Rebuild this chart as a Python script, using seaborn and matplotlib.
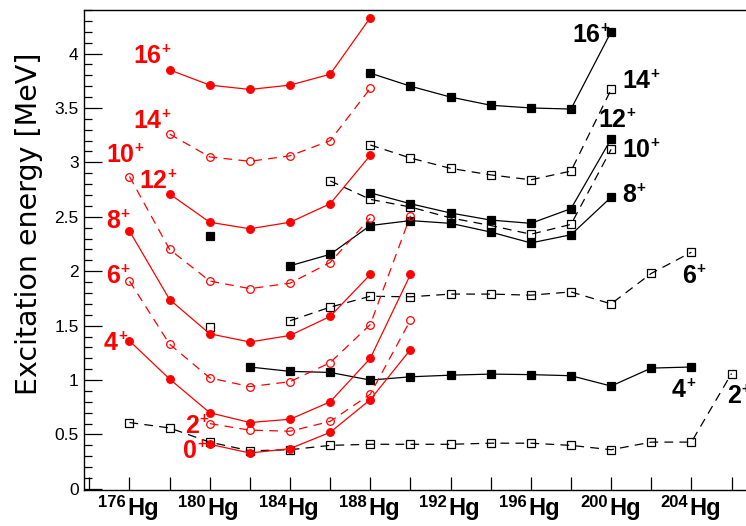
import numpy as np
import matplotlib
matplotlib.use("Agg")
import matplotlib.pyplot as plt
import seaborn as sns
from matplotlib.ticker import FixedLocator

sns.set_theme(style="ticks")
plt.rcParams["font.family"] = ["Liberation Sans", "DejaVu Sans"]

RED = "#ff0000"
BLACK = "#000000"

# ---------------- data (excitation energies in MeV) ----------------
# red: intruder band
red_0_A = [180, 182, 184, 186, 188, 190]
red_0_E = [0.41, 0.33, 0.37, 0.52, 0.82, 1.28]
red_2_A = [180, 182, 184, 186, 188, 190]
red_2_E = [0.60, 0.54, 0.53, 0.62, 0.87, 1.55]
red_4_A = [176, 178, 180, 182, 184, 186, 188, 190]
red_4_E = [1.36, 1.01, 0.70, 0.61, 0.64, 0.80, 1.20, 1.97]
red_6_A = [176, 178, 180, 182, 184, 186, 188, 190]
red_6_E = [1.91, 1.33, 1.02, 0.94, 0.985, 1.16, 1.51, 2.51]
red_8_A = [176, 178, 180, 182, 184, 186, 188]
red_8_E = [2.37, 1.74, 1.425, 1.35, 1.41, 1.585, 1.97]
red_10_A = [176, 178, 180, 182, 184, 186, 188]
red_10_E = [2.87, 2.20, 1.91, 1.84, 1.89, 2.08, 2.49]
red_12_A = [178, 180, 182, 184, 186, 188]
red_12_E = [2.71, 2.45, 2.39, 2.45, 2.62, 3.065]
red_14_A = [178, 180, 182, 184, 186, 188]
red_14_E = [3.26, 3.05, 3.01, 3.06, 3.20, 3.68]
red_16_A = [178, 180, 182, 184, 186, 188]
red_16_E = [3.85, 3.71, 3.67, 3.71, 3.81, 4.33]

# black: ground band
blk_2_A = [176, 178, 180, 182, 184, 186, 188, 190, 192, 194, 196, 198, 200, 202, 204, 206]
blk_2_E = [0.61, 0.56, 0.43, 0.35, 0.36, 0.40, 0.41, 0.41, 0.41, 0.42, 0.42, 0.40, 0.36, 0.43, 0.43, 1.06]
blk_4_A = [182, 184, 186, 188, 190, 192, 194, 196, 198, 200, 202, 204]
blk_4_E = [1.12, 1.08, 1.07, 1.00, 1.03, 1.045, 1.055, 1.05, 1.04, 0.945, 1.11, 1.12]
blk_6_A = [184, 186, 188, 190, 192, 194, 196, 198, 200, 202, 204]
blk_6_E = [1.545, 1.67, 1.77, 1.765, 1.79, 1.79, 1.78, 1.81, 1.70, 1.98, 2.175]
blk_6_iso_A = [180]
blk_6_iso_E = [1.49]
blk_8_A = [184, 186, 188, 190, 192, 194, 196, 198, 200]
blk_8_E = [2.05, 2.155, 2.42, 2.465, 2.44, 2.36, 2.26, 2.335, 2.68]
blk_8_iso_A = [180]
blk_8_iso_E = [2.32]
blk_10_A = [186, 188, 190, 192, 194, 196, 198, 200]
blk_10_E = [2.83, 2.66, 2.59, 2.49, 2.42, 2.34, 2.43, 3.12]
blk_12_A = [188, 190, 192, 194, 196, 198, 200]
blk_12_E = [2.72, 2.62, 2.535, 2.47, 2.44, 2.575, 3.215]
blk_14_A = [188, 190, 192, 194, 196, 198, 200]
blk_14_E = [3.16, 3.04, 2.945, 2.885, 2.84, 2.92, 3.67]
blk_16_A = [188, 190, 192, 194, 196, 198, 200]
blk_16_E = [3.82, 3.70, 3.60, 3.525, 3.50, 3.49, 4.20]

x_ticks = list(range(174, 207, 2))
x_label_masses = [176, 180, 184, 188, 192, 196, 200, 204]
y_ticks = [0, 0.5, 1, 1.5, 2, 2.5, 3, 3.5, 4]
y_tick_labels = ["0", "0.5", "1", "1.5", "2", "2.5", "3", "3.5", "4"]
y_label = "Excitation energy [MeV]"

# ---------------- figure ----------------
W, H = 746, 526
fig = plt.figure(figsize=(W / 100, H / 100), dpi=100)
ax = fig.add_axes([84.3 / W, 36 / H, 1 - 84.3 / W, 480 / H])
ax.set_xlim(173.75, 206.72)
ax.set_ylim(-0.01, 4.40)

DASH = (0, (7, 5))


def draw(xs, ys, color, filled, dashed, marker):
    sns.lineplot(
        x=xs, y=ys, ax=ax, color=color, estimator=None, sort=False,
        linestyle=DASH if dashed else "-", linewidth=0.9,
        marker=marker, markersize=5.5,
        markerfacecolor=color if filled else "none",
        markeredgecolor=color, markeredgewidth=0.9, legend=False,
    )


# black series
draw(blk_2_A, blk_2_E, BLACK, False, True, "s")
draw(blk_4_A, blk_4_E, BLACK, True, False, "s")
draw(blk_6_A, blk_6_E, BLACK, False, True, "s")
draw(blk_6_iso_A, blk_6_iso_E, BLACK, False, True, "s")
draw(blk_8_A, blk_8_E, BLACK, True, False, "s")
draw(blk_8_iso_A, blk_8_iso_E, BLACK, True, False, "s")
draw(blk_10_A, blk_10_E, BLACK, False, True, "s")
draw(blk_12_A, blk_12_E, BLACK, True, False, "s")
draw(blk_14_A, blk_14_E, BLACK, False, True, "s")
draw(blk_16_A, blk_16_E, BLACK, True, False, "s")

# red series
draw(red_0_A, red_0_E, RED, True, False, "o")
draw(red_2_A, red_2_E, RED, False, True, "o")
draw(red_4_A, red_4_E, RED, True, False, "o")
draw(red_6_A, red_6_E, RED, False, True, "o")
draw(red_8_A, red_8_E, RED, True, False, "o")
draw(red_10_A, red_10_E, RED, False, True, "o")
draw(red_12_A, red_12_E, RED, True, False, "o")
draw(red_14_A, red_14_E, RED, False, True, "o")
draw(red_16_A, red_16_E, RED, True, False, "o")


def spin_label(x, y, txt, color):
    t = ax.text(x, y, txt, color=color, fontsize=18, fontweight="bold",
                ha="left", va="baseline", clip_on=False)
    ax.annotate("+", xy=(1.0, 1.0), xycoords=t, xytext=(0.3, 1.5),
                textcoords="offset points", ha="left", va="top",
                fontsize=11, fontweight="bold", color=color)


red_labels = [("16", 176.18, 3.915), ("14", 176.18, 3.317), ("10", 174.83, 3.005),
              ("12", 176.48, 2.766), ("8", 174.83, 2.398), ("6", 174.83, 1.892),
              ("4", 174.73, 1.277), ("2", 178.77, 0.514), ("0", 178.67, 0.284)]
blk_labels = [("16", 198.05, 4.108), ("14", 200.54, 3.685), ("12", 199.35, 3.326),
              ("10", 200.54, 3.051), ("8", 200.54, 2.637), ("6", 203.53, 1.892),
              ("4", 203.03, 0.845), ("2", 205.77, 0.790)]
for txt, x, y in red_labels:
    spin_label(x, y, txt, RED)
for txt, x, y in blk_labels:
    spin_label(x, y, txt, BLACK)

# x-axis: ticks and "^A Hg" labels
ax.xaxis.set_major_locator(FixedLocator(x_ticks))
ax.tick_params(axis="x", which="major", direction="in", length=9.5, width=0.9,
               labelbottom=False, bottom=True, top=False, color="black")
for A in x_label_masses:
    ax.annotate("Hg", xy=(A, 0), xycoords=("data", "axes fraction"),
                xytext=(-1.6, -18.2), textcoords="offset points",
                ha="left", va="baseline", fontsize=17, fontweight="bold", color="black")
    ax.annotate(str(A), xy=(A, 0), xycoords=("data", "axes fraction"),
                xytext=(-2.6, -12.4), textcoords="offset points",
                ha="right", va="baseline", fontsize=12, fontweight="bold", color="black")

# y-axis
ax.yaxis.set_major_locator(FixedLocator(y_ticks))
ax.yaxis.set_minor_locator(FixedLocator(np.round(np.arange(0, 4.41, 0.1), 2)))
ax.set_yticklabels(y_tick_labels)
ax.tick_params(axis="y", which="major", direction="in", length=13, width=0.9,
               labelsize=12.5, pad=4, left=True, right=False, color="black", labelcolor="black")
ax.tick_params(axis="y", which="minor", direction="in", length=6, width=0.9,
               left=True, right=False, color="black")
ax.set_ylabel(y_label, fontsize=20.5, family="DejaVu Sans", color="black")
ax.yaxis.set_label_coords((43 - 84.3) / (W - 84.3), 0.555)

ax.set_xlabel("")
for side in ["left", "bottom", "top"]:
    ax.spines[side].set_visible(True)
    ax.spines[side].set_color("black")
    ax.spines[side].set_linewidth(1.0)
ax.spines["right"].set_visible(False)
ax.grid(False)

fig.savefig("out.png", dpi=100, facecolor="white")
